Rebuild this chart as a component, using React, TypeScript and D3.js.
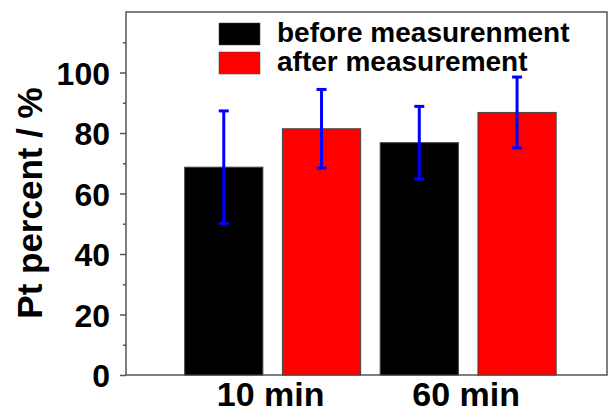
import { useEffect, useRef } from 'react'
import * as d3 from 'd3'

const WIDTH = 609
const HEIGHT = 414
const FRAME = { left: 126, right: 607, top: 12, bottom: 375 }
const FONT = '"Liberation Sans", Arial, sans-serif'

const CATEGORIES = ['10 min', '60 min']
const SERIES = ['before measurenment', 'after measurement']
const SERIES_COLORS = ['#000000', '#ff0000']
const BEFORE = [68.7, 76.8]
const AFTER = [81.4, 86.8]
const BEFORE_ERR = [18.6, 12.0]
const AFTER_ERR = [13.0, 11.7]
const Y_TICKS = [0, 20, 40, 60, 80, 100]
const Y_MINOR = [10, 30, 50, 70, 90, 110]

export default function App() {
  const svgRef = useRef<SVGSVGElement>(null)

  useEffect(() => {
    const svgEl = svgRef.current
    if (!svgEl) return
    const svg = d3.select(svgEl)
    svg.selectAll('*').remove()

    // ── Scales ──────────────────────────────────────────────────────────────
    const x = d3.scaleLinear([0, 4.92], [FRAME.left, FRAME.right])
    const y = d3.scaleLinear([0, 120], [FRAME.bottom, FRAME.top])
    const barW = x(0.8) - x(0)

    const bars = CATEGORIES.flatMap((cat, gi) => [
      { pos: 1 + gi * 2, value: BEFORE[gi], err: BEFORE_ERR[gi], color: SERIES_COLORS[0] },
      { pos: 2 + gi * 2, value: AFTER[gi], err: AFTER_ERR[gi], color: SERIES_COLORS[1] },
    ])

    // ── Frame ───────────────────────────────────────────────────────────────
    svg.append('rect')
      .attr('x', FRAME.left).attr('y', FRAME.top)
      .attr('width', FRAME.right - FRAME.left).attr('height', FRAME.bottom - FRAME.top)
      .attr('fill', 'none').attr('stroke', '#555').attr('stroke-width', 1.5)

    // ── Bars ────────────────────────────────────────────────────────────────
    svg.append('g').selectAll('rect')
      .data(bars).join('rect')
      .attr('x', d => x(d.pos) - barW / 2).attr('width', barW)
      .attr('y', d => y(d.value)).attr('height', d => y(0) - y(d.value))
      .attr('fill', d => d.color).attr('stroke', '#444').attr('stroke-width', 1)

    // ── Error bars ──────────────────────────────────────────────────────────
    const errG = svg.append('g').attr('stroke', '#0000ff').attr('stroke-width', 3)
    bars.forEach(d => {
      const cx = x(d.pos)
      errG.append('line')
        .attr('x1', cx).attr('x2', cx)
        .attr('y1', y(d.value + d.err)).attr('y2', y(d.value - d.err))
      ;[d.value + d.err, d.value - d.err].forEach(v => {
        errG.append('line')
          .attr('x1', cx - 5).attr('x2', cx + 5)
          .attr('y1', y(v)).attr('y2', y(v))
      })
    })

    // ── Y axis ──────────────────────────────────────────────────────────────
    svg.append('g')
      .attr('transform', `translate(${FRAME.left},0)`)
      .call(d3.axisLeft(y).tickValues(Y_MINOR).tickSize(3).tickFormat(() => ''))
      .call(ag => ag.select('.domain').remove())
      .call(ag => ag.selectAll('.tick line').attr('stroke', '#555').attr('stroke-width', 1.5))

    svg.append('g')
      .attr('transform', `translate(${FRAME.left},0)`)
      .call(d3.axisLeft(y).tickValues(Y_TICKS).tickSize(6).tickPadding(10))
      .call(ag => ag.select('.domain').remove())
      .call(ag => ag.selectAll('.tick line').attr('stroke', '#555').attr('stroke-width', 1.5))
      .call(ag => ag.selectAll('text')
        .attr('fill', '#000').attr('font-size', 32).attr('font-weight', 'bold')
        .attr('font-family', FONT).attr('dy', '0.36em'))

    svg.append('text')
      .attr('transform', `translate(42,203) rotate(-90)`)
      .attr('text-anchor', 'middle').attr('font-size', 35).attr('font-weight', 'bold')
      .attr('font-family', FONT).attr('fill', '#000')
      .text('Pt percent / %')

    // ── X labels ────────────────────────────────────────────────────────────
    CATEGORIES.forEach((cat, gi) => {
      svg.append('text')
        .attr('x', x(1.5 + gi * 2) - 2).attr('y', 406)
        .attr('text-anchor', 'middle').attr('font-size', 34).attr('font-weight', 'bold')
        .attr('font-family', FONT).attr('fill', '#000')
        .text(cat)
    })

    // ── Legend ──────────────────────────────────────────────────────────────
    SERIES.forEach((name, i) => {
      const ly = 23 + i * 29
      svg.append('rect')
        .attr('x', 219).attr('y', ly).attr('width', 41).attr('height', 22)
        .attr('fill', SERIES_COLORS[i]).attr('stroke', '#444').attr('stroke-width', 0.5)
      svg.append('text')
        .attr('x', 277).attr('y', ly + 19)
        .attr('font-size', 28).attr('font-weight', 'bold')
        .attr('font-family', FONT).attr('fill', '#000')
        .text(name)
    })
  }, [])

  return (
    <svg
      ref={svgRef}
      width={WIDTH}
      height={HEIGHT}
      style={{ position: 'absolute', left: 0, top: 0, background: '#fff' }}
    />
  )
}
